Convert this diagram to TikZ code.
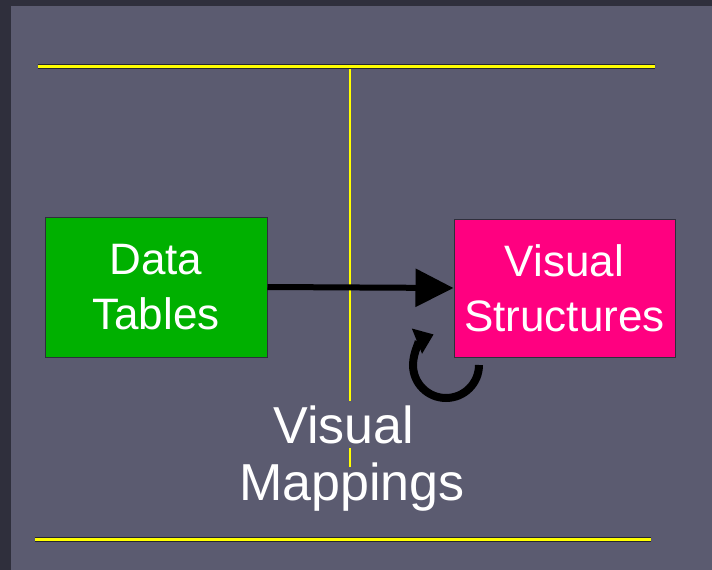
\documentclass[tikz,border=0pt]{standalone}
\usepackage{fontspec}
\setmainfont{Liberation Sans}
\usetikzlibrary{arrows.meta}
\definecolor{bgc}{RGB}{91,91,112}
\definecolor{darkc}{RGB}{47,47,60}
\definecolor{greenc}{RGB}{0,176,0}
\definecolor{pinkc}{RGB}{255,0,128}
\definecolor{ylw}{RGB}{255,255,0}
\tikzset{
  rule/.style={draw=darkc!80!black, line width=1pt, double=ylw, double distance=3pt},
  boxnode/.style={draw=darkc, line width=1pt, text=white, align=center,
    font=\fontsize{44}{55}\selectfont, inner sep=0pt},
  bigtext/.style={text=white, align=center, font=\fontsize{52}{57}\selectfont, fill=bgc, inner xsep=0pt, inner ysep=4pt},
  flow/.style={line width=6pt, draw=black, -{Triangle[length=38pt,width=37pt]}},
  loop/.style={line width=8pt, draw=black, -{Triangle[length=18pt,width=26pt]}}
}
\begin{document}
\begin{tikzpicture}[x=1pt,y=-1pt]
\useasboundingbox (0,0) rectangle (712,570);
\fill[darkc] (0,0) rectangle (712,570);
\fill[bgc] (11,6) rectangle (712,570);
% rules
\coordinate (t1) at (38,66);
\coordinate (t2) at (655,66);
\coordinate (b1) at (35,539);
\coordinate (b2) at (651,539);
\coordinate (vtop) at (350,66);
\coordinate (vbot) at (350,467);
\draw[ylw, line width=1.5pt] (vtop) -- (vbot);
\draw[rule] (t1) -- (t2);
\draw[rule] (b1) -- (b2);
% loop arrow
\coordinate (loopstart) at (479,365);
\draw[loop] (loopstart) arc[start angle=0, end angle=248, radius=33];
% boxes
\node[boxnode, fill=greenc, minimum width=222pt, minimum height=140pt] (dt) at (156,287) {Data\\Tables};
\node[boxnode, fill=pinkc, minimum width=221pt, minimum height=138pt] (vs) at (564.5,288) {Visual\\Structures};
\draw[flow] (dt.east) -- (vs.west);
% label
\node[bigtext, anchor=base] (vm1) at (344,443) {Visual};
\node[text=white, font=\fontsize{52}{57}\selectfont, anchor=base, inner sep=0pt] (vm2) at (352,500) {Mappings};
\end{tikzpicture}
\end{document}
